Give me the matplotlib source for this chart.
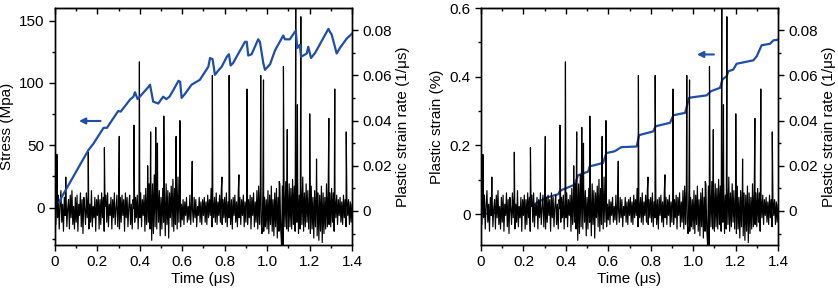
import numpy as np
import matplotlib.pyplot as plt
from matplotlib.ticker import MultipleLocator

plt.rcParams['font.family'] = ['Liberation Sans', 'DejaVu Sans']
plt.rcParams['font.size'] = 11

# plastic strain rate (1/us), sampled every 0.004 us, values in 1e-3 units
rate_noise = [
    4, -6, 8, -3, 7, -8, 2, 9, -5, 3, -9, 6, -2, 8, -7, 1, 5, -8, 7, -3, 9, -6, 2, -8, 6,
    -5, 7, -9, 3, -2, 8, -7, 5, -10, 6, 1, -6, 8, -3, 7, -8, 3, -5, 9, -7, 2, -3, 6, -9, 5,
    -2, 7, -8, 5, -6, 8, -3, 6, -9, 2, 7, -5, 8, -7, 3, -2, 6, -8, 5, -3, 8, -6, 1, 7, -7,
    3, -8, 6, -5, 7, -2, 5, -9, 8, -3, 6, -7, 2, 7, -6, 3, -8, 5, 1, -5, 6, -3, 7, -8, 5,
    -3, 8, -7, 5, -2, 7, -9, 10, -6, 8, -5, 12, -8, 15, -13, 12, -10, 16, -7, 13, -8, 11, -5, 9, -11,
    6, -8, 10, -5, 7, -11, 12, -6, 9, -12, 8, -3, 11, -7, 14, -9, 10, -6, 12, -8, 15, -5, 9, -7, 3,
    -4, 5, -6, 4, -2, 6, -5, 2, -4, 7, -6, 4, 1, -5, 6, -3, 5, -7, 2, -2, 6, -5, 4, -6, 5,
    -2, 6, -5, 4, -6, 7, -3, 5, -2, 10, -7, 5, -3, 6, -5, 8, -6, 4, -2, 7, -5, 9, -6, 5, -3,
    6, -5, 8, -7, 4, -3, 7, -6, 5, -8, 6, -2, 7, -5, 4, -7, 8, -3, 6, -6, 5, -2, 7, -7, 4,
    -5, 8, -6, 5, -3, 7, -8, 6, -2, 8, -7, 4, -5, 9, -8, 11, -6, 10, -5, -10, 8, -9, 6, -7, 5,
    -8, 9, -10, 7, -6, 11, -9, 5, -11, 8, -7, 10, -12, 6, -9, 12, -8, -15, 11, -16, 9, -7, 13, -8, 10,
    -9, 12, -7, 10, -8, 14, -6, 11, -9, 8, -5, 13, -10, 7, -8, 11, -6, 15, -9, 8, -7, 12, -5, 9, -8,
    7, -10, 11, -8, 6, -12, 9, -7, 10, -11, 8, -13, 7, -9, 11, -14, 8, -10, 6, -8, 12, -7, 9, -6, 8,
    -7, 10, -5, 8, -9, 6, -3, 7, -6, 5, -2, 6, -5, 4, -6, 7, -3, 5, -7, 6, -2, 5, -6, 4, -5,
    3,
]
rate_time = np.linspace(0, 1.4, len(rate_noise))

# strain bursts
spike_time = [0.009, 0.051, 0.157, 0.233, 0.303, 0.372, 0.398, 0.437, 0.451, 0.475,
              0.483, 0.513, 0.571, 0.589, 0.647, 0.742, 0.787, 0.821, 0.867, 0.905,
              0.970, 0.983, 1.057, 1.077, 1.095, 1.135, 1.143, 1.159, 1.201, 1.233,
              1.291, 1.319, 1.373]
spike_rate = [25, 15, 26, 28, 33, 38, 66, 20, 35, 37,
              30, 42, 33, 40, 22, 60, 15, 60, 16, 54,
              60, 58, 13, 64, 36, 95, 47, 86, 43, 23,
              41, 54, 35]

# stress (MPa) vs time (us)
stress_time = [0.02, 0.03, 0.157, 0.18, 0.229, 0.245, 0.298, 0.31, 0.354, 0.37, 0.377,
               0.39, 0.40, 0.44, 0.448, 0.463, 0.487, 0.51, 0.525, 0.54, 0.566, 0.582,
               0.59, 0.597, 0.612, 0.644, 0.683, 0.723, 0.731, 0.743, 0.754, 0.77, 0.786,
               0.81, 0.82, 0.828, 0.84, 0.856, 0.896, 0.904, 0.911, 0.927, 0.958, 0.966,
               0.982, 0.99, 1.014, 1.037, 1.076, 1.084, 1.107, 1.135, 1.142, 1.154, 1.16,
               1.187, 1.194, 1.207, 1.226, 1.289, 1.296, 1.304, 1.328, 1.343, 1.375, 1.4]
stress = [4, 8, 46, 51, 64, 64, 77.5, 77, 86.7, 89, 92.5,
          87, 89, 96.7, 98.6, 85, 83.5, 89, 87, 89, 96.7, 101.7,
          101, 88, 91, 98.6, 102.5, 113, 120, 119, 106.5, 110, 113,
          121, 123, 114, 116, 121, 133, 133, 122, 123, 135, 133,
          116, 110.5, 115, 126, 138, 135, 135, 142, 128, 130.6, 121,
          123.6, 129, 120, 124, 143.4, 141, 139, 123.6, 128, 135.5, 139.5]

# plastic strain (%) vs time (us)
strain_time = [0.0, 0.1, 0.2, 0.245, 0.308, 0.364, 0.371, 0.379, 0.442, 0.457, 0.505,
               0.512, 0.575, 0.591, 0.63, 0.661, 0.734, 0.745, 0.812, 0.823, 0.891,
               0.907, 0.962, 0.981, 1.064, 1.084, 1.127, 1.138, 1.158, 1.166, 1.189,
               1.205, 1.284, 1.3, 1.323, 1.362, 1.378, 1.4]
strain = [0.0, 0.005, 0.015, 0.027, 0.048, 0.058, 0.066, 0.07, 0.086, 0.113, 0.124,
          0.139, 0.149, 0.178, 0.183, 0.195, 0.197, 0.23, 0.241, 0.256, 0.266,
          0.288, 0.295, 0.339, 0.346, 0.358, 0.368, 0.392, 0.402, 0.416, 0.421,
          0.438, 0.448, 0.46, 0.492, 0.496, 0.506, 0.508]

x_ticks = [0, 0.2, 0.4, 0.6, 0.8, 1.0, 1.2, 1.4]
x_labels = ['0', '0.2', '0.4', '0.6', '0.8', '1.0', '1.2', '1.4']
rate_ticks = [0, 0.02, 0.04, 0.06, 0.08]
rate_labels = ['0', '0.02', '0.04', '0.06', '0.08']

blue = '#1f4ea8'

# merge bursts into the noise record
t_all = np.concatenate([rate_time, spike_time])
r_all = np.concatenate([rate_noise, spike_rate]) * 1e-3
order = np.argsort(t_all, kind='stable')
t_all, r_all = t_all[order], r_all[order]

fig = plt.figure(figsize=(8.38, 2.9), dpi=100)
ax1 = fig.add_axes([0.0656, 0.155, 0.3544, 0.817])
ax2 = fig.add_axes([0.574, 0.155, 0.3544, 0.817])


def style(ax, rax):
    for a in (ax, rax):
        for s in a.spines.values():
            s.set_linewidth(1.0)
    ax.set_xlim(0, 1.4)
    ax.set_xticks(x_ticks)
    ax.set_xticklabels(x_labels)
    ax.xaxis.set_minor_locator(MultipleLocator(0.1))
    ax.tick_params(axis='x', which='both', direction='out', bottom=True, top=False)
    ax.tick_params(axis='y', which='both', direction='out', right=False)
    ax.tick_params(which='major', length=4, width=1)
    ax.tick_params(which='minor', length=2.5, width=1)
    top = ax.secondary_xaxis('top')
    top.set_xticks(x_ticks)
    top.xaxis.set_minor_locator(MultipleLocator(0.1))
    top.tick_params(which='both', direction='in', labeltop=False)
    top.tick_params(which='major', length=4, width=1)
    top.tick_params(which='minor', length=2.5, width=1)
    rax.set_ylim(-0.0151, 0.0898)
    rax.set_yticks(rate_ticks)
    rax.set_yticklabels(rate_labels)
    rax.yaxis.set_minor_locator(MultipleLocator(0.01))
    rax.tick_params(which='both', direction='out')
    rax.tick_params(which='major', length=4, width=1)
    rax.tick_params(which='minor', length=2.5, width=1)
    rax.set_ylabel('Plastic strain rate (1/\u03bcs)', labelpad=3)
    ax.set_xlabel('Time (\u03bcs)', labelpad=2)


# left: stress
r1 = ax1.twinx()
r1.plot(t_all, r_all, color='black', lw=0.85)
ax1.set_zorder(r1.get_zorder() + 1)
ax1.patch.set_visible(False)
ax1.plot(stress_time, stress, color=blue, lw=1.6)
ax1.set_ylim(-30, 160)
ax1.set_yticks([0, 50, 100, 150])
ax1.yaxis.set_minor_locator(MultipleLocator(25))
ax1.set_ylabel('Stress (Mpa)', labelpad=4)
ax1.annotate('', xy=(0.10, 69.5), xytext=(0.228, 69.5),
             arrowprops=dict(arrowstyle='-|>', color=blue, lw=1.5, mutation_scale=9))
style(ax1, r1)

# right: plastic strain
r2 = ax2.twinx()
ax2.plot(strain_time, strain, color=blue, lw=1.6)
r2.plot(t_all, r_all, color='black', lw=0.85)
ax2.set_ylim(-0.09, 0.6)
ax2.set_yticks([0, 0.2, 0.4, 0.6])
ax2.set_yticklabels(['0', '0.2', '0.4', '0.6'])
ax2.yaxis.set_minor_locator(MultipleLocator(0.1))
ax2.set_ylabel('Plastic strain (%)', labelpad=4)
ax2.annotate('', xy=(1.005, 0.465), xytext=(1.111, 0.465),
             arrowprops=dict(arrowstyle='-|>', color=blue, lw=1.5, mutation_scale=9))
style(ax2, r2)

fig.savefig('out.png', dpi=100)
